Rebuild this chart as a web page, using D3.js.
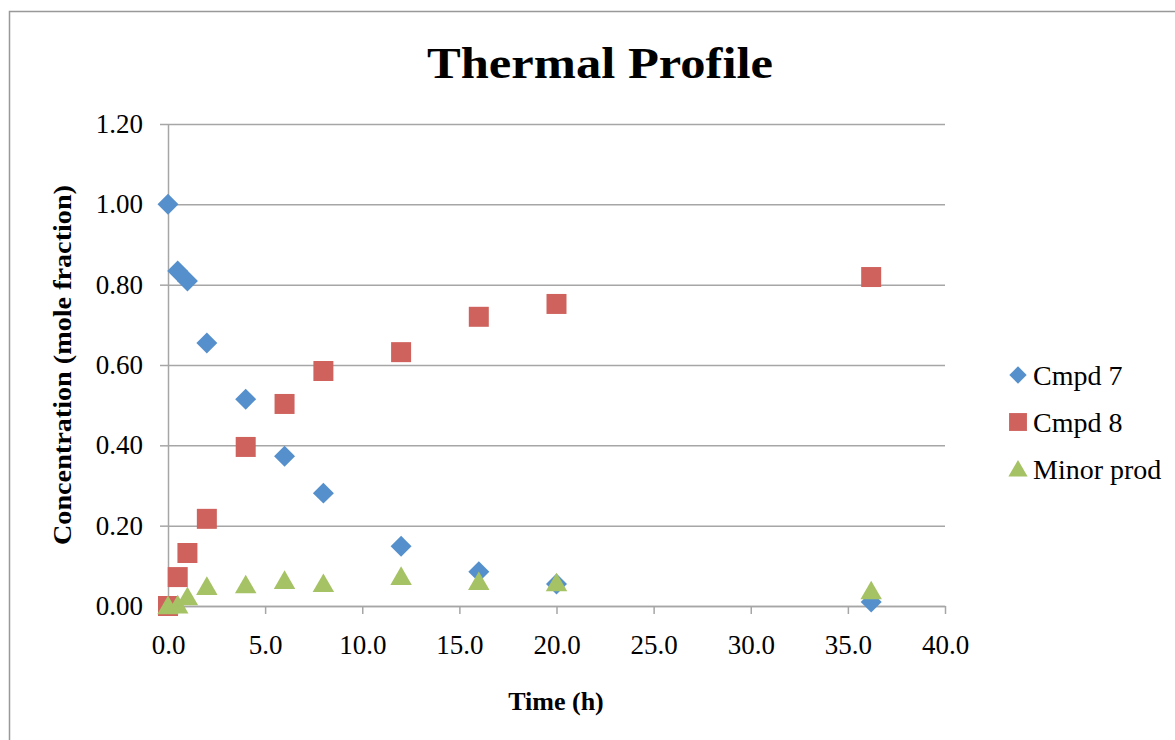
<!DOCTYPE html>
<html>
<meta charset="utf-8">
<title>Thermal Profile</title>
<style>
  body { margin: 0; background: #fff; }
  text { font-family: "Liberation Serif", "Times New Roman", serif; fill: #000; }
</style>
<body>
<div id="chart"></div>
<script src="https://d3js.org/d3.v7.min.js"></script>
<script>
// data
var times     = [0, 0.5, 1, 2, 4, 6, 8, 12, 16, 20, 36.2];
var cmpd7     = [1.00, 0.834, 0.809, 0.655, 0.515, 0.373, 0.281, 0.149, 0.085, 0.055, 0.010];
var cmpd8     = [0.00, 0.072, 0.132, 0.217, 0.396, 0.503, 0.585, 0.632, 0.720, 0.752, 0.819];
var minorProd = [0.00, 0.002, 0.022, 0.048, 0.052, 0.063, 0.055, 0.073, 0.060, 0.057, 0.037];
var seriesNames = ["Cmpd 7", "Cmpd 8", "Minor prod"];
var xTicks = [0, 5, 10, 15, 20, 25, 30, 35, 40];
var yTicks = [0, 0.2, 0.4, 0.6, 0.8, 1.0, 1.2];

var W = 1175, H = 740;
var plotLeft = 168, plotRight = 945, plotTop = 124, plotBottom = 606;

var svg = d3.select("#chart").append("svg")
  .attr("width", W).attr("height", H);

// outer chart frame
svg.append("rect")
  .attr("x", 9.5).attr("y", 11.5)
  .attr("width", W + 20).attr("height", H + 20)
  .style("fill", "none").style("stroke", "#999").style("stroke-width", 1.5);

var x = d3.scaleLinear().domain([0, 40]).range([plotLeft, plotRight]);
var y = d3.scaleLinear().domain([0, 1.2]).range([plotBottom, plotTop]);

// gridlines
svg.append("g")
  .attr("transform", "translate(" + plotLeft + ",0)")
  .call(d3.axisLeft(y).tickValues(yTicks).tickSize(-(plotRight - plotLeft)).tickFormat(""))
  .call(function (g) {
    g.select(".domain").remove();
    g.selectAll("line").style("stroke", "#a6a6a6").style("stroke-width", 1.5);
  });

// y axis
var yAxis = svg.append("g")
  .attr("transform", "translate(" + plotLeft + ",0)")
  .call(d3.axisLeft(y).tickValues(yTicks).tickSize(8).tickSizeOuter(0)
        .tickPadding(17).tickFormat(d3.format(".2f")));
yAxis.select(".domain").style("stroke", "#a6a6a6").style("stroke-width", 1.5);
yAxis.selectAll("line").style("stroke", "#a6a6a6").style("stroke-width", 1.5);
yAxis.selectAll("text")
  .style("font-family", "Liberation Serif").style("font-size", "27px").attr("fill", "#000");

// x axis
var xAxis = svg.append("g")
  .attr("transform", "translate(0," + plotBottom + ")")
  .call(d3.axisBottom(x).tickValues(xTicks).tickSize(8).tickSizeOuter(0)
        .tickPadding(21).tickFormat(d3.format(".1f")));
xAxis.select(".domain").style("stroke", "#a6a6a6").style("stroke-width", 1.5);
xAxis.selectAll("line").style("stroke", "#a6a6a6").style("stroke-width", 1.5);
xAxis.selectAll("text")
  .style("font-family", "Liberation Serif").style("font-size", "27px").attr("fill", "#000");

// markers
var colors = ["#5690cc", "#cf625d", "#a5c264"];
var shapes = [
  d3.symbol().type(d3.symbolSquare).size(220),    // rotated to a diamond
  d3.symbol().type(d3.symbolSquare).size(400),
  d3.symbol().type(d3.symbolTriangle).size(200)
];
var allSeries = [cmpd7, cmpd8, minorProd];

allSeries.forEach(function (vals, i) {
  svg.append("g").selectAll("path")
    .data(vals)
    .enter().append("path")
    .attr("d", shapes[i])
    .attr("transform", function (d, j) {
      var t = "translate(" + x(times[j]) + "," + y(d) + ")";
      if (i == 0) t += " rotate(45)";
      if (i == 2) t += " translate(0,2)";
      return t;
    })
    .style("fill", colors[i]);
});

// legend
var legend = svg.append("g");
seriesNames.forEach(function (name, i) {
  var ly = 375 + i * 47;
  legend.append("path")
    .attr("d", i == 0 ? d3.symbol().type(d3.symbolSquare).size(150)()
             : i == 1 ? d3.symbol().type(d3.symbolSquare).size(320)()
             : d3.symbol().type(d3.symbolTriangle).size(160)())
    .attr("transform", "translate(1018," + (i == 2 ? ly + 2 : ly) + ")" + (i == 0 ? " rotate(45)" : ""))
    .style("fill", colors[i]);
  legend.append("text")
    .attr("x", 1033).attr("y", ly + 10)
    .style("font-size", "28px")
    .text(name);
});

// title
svg.append("text")
  .attr("x", 600).attr("y", 78)
  .attr("text-anchor", "middle")
  .attr("textLength", 346).attr("lengthAdjust", "spacingAndGlyphs")
  .style("font-size", "45px").style("font-weight", "bold")
  .text("Thermal Profile");

// axis titles
svg.append("text")
  .attr("x", 556).attr("y", 710)
  .attr("text-anchor", "middle")
  .style("font-size", "26px").style("font-weight", "bold")
  .text("Time (h)");

svg.append("text")
  .attr("transform", "translate(71,365) rotate(-90)")
  .attr("text-anchor", "middle")
  .attr("textLength", 360).attr("lengthAdjust", "spacingAndGlyphs")
  .style("font-size", "26px").style("font-weight", "bold")
  .text("Concentration (mole fraction)");
</script>
</body>
</html>
